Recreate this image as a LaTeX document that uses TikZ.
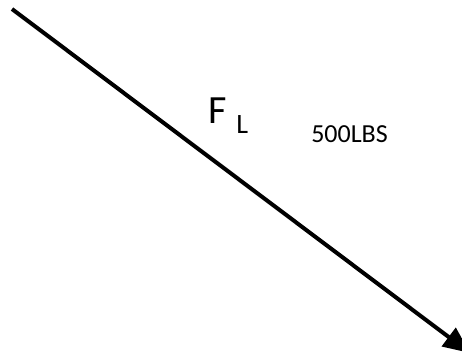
\documentclass[tikz,border=0pt]{standalone}
\usepackage{fontspec}
\setmainfont{Carlito}
\usetikzlibrary{arrows.meta}
\tikzset{
  % force vector
  force/.style={
    line width=3pt,
    -{Triangle[length=20pt, width=17pt]}
  },
  % labels
  forcename/.style={
    inner sep=0pt, anchor=base west,
    font=\fontsize{30}{36}\selectfont
  },
  forcesub/.style={
    inner sep=0pt, anchor=base west,
    font=\fontsize{21}{25}\selectfont
  },
  forcevalue/.style={
    inner sep=0pt, anchor=base west,
    font=\fontsize{19.5}{23}\selectfont
  },
}

\begin{document}
\begin{tikzpicture}[x=0.75pt, y=-0.75pt]

  \useasboundingbox (0,0) rectangle (462,354);

  %% -- Vector end points --
  \coordinate (tail) at (12,9);
  \coordinate (head) at (470,353);

  %% -- Force --
  \draw[force] (tail) -- (head);

  %% -- Labels --
  \node[forcename]  (F)      at (208,123) {F};
  \node[forcesub]   (L)      at (236,133) {L};
  \node[forcevalue] (weight) at (311,142) {500LBS};

\end{tikzpicture}
\end{document}
